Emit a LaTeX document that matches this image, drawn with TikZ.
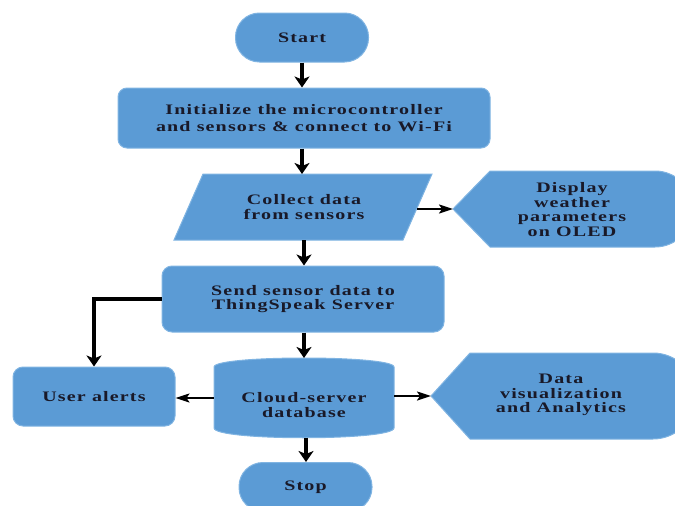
\documentclass[tikz,border=0pt]{standalone}
\usepackage{fontspec}
\setmainfont{Liberation Serif}[FakeStretch=1.38, LetterSpace=8]
\usetikzlibrary{arrows.meta}
\definecolor{boxblue}{RGB}{91,155,213}
\definecolor{edgeblue}{RGB}{128,180,226}
\definecolor{txt}{RGB}{25,25,40}
\begin{document}
\begin{tikzpicture}[x=1pt,y=-1pt,
  shapefill/.style={fill=boxblue, draw=edgeblue, line width=1pt},
  lbl/.style={text=txt, font=\bfseries\fontsize{14.5}{14.8}\selectfont, align=center, inner sep=0pt},
  arr/.style={line width=3.2pt, -{Stealth[length=11pt,width=15pt,inset=3pt]}},
  harr/.style={line width=2pt, -{Stealth[length=14pt,width=9pt,inset=3pt]}},
]
\useasboundingbox (0,0) rectangle (675,506);
\clip (0,0) rectangle (675,506);

% Start
\node[shapefill, lbl, rounded corners=24pt, minimum width=133pt, minimum height=49pt] (start) at (302,37.5) {Start};
% Initialize
\node[shapefill, lbl, rounded corners=9pt, minimum width=372pt, minimum height=60pt,
      font=\bfseries\fontsize{14.5}{16.5}\selectfont] (init) at (304,118) {Initialize the microcontroller\\and sensors \& connect to Wi-Fi};
% Collect data (parallelogram)
\fill[boxblue, draw=edgeblue, line width=1pt] (203,174) -- (432,174) -- (403,240) -- (174,240) -- cycle;
\node[lbl] (coll) at (304,207) {Collect data\\from sensors};
\coordinate (coll-n) at (303,174);
\coordinate (coll-s) at (304,240);
\coordinate (coll-e) at (416.5,209);
% Display
\fill[boxblue, draw=edgeblue, line width=1pt] (453,209) -- (490,171) -- (655,171)
  .. controls (676,171) and (693,188) .. (693,209)
  .. controls (693,230) and (676,247) .. (655,247) -- (490,247) -- cycle;
\node[lbl] (disp) at (572,209.5) {Display\\weather\\parameters\\on OLED};
\coordinate (disp-w) at (453,209);
% Send
\node[shapefill, lbl, rounded corners=10pt, minimum width=282pt, minimum height=66pt] (send) at (303,299) {Send sensor data to\\ThingSpeak Server};
% Cloud-server database (cylinder)
\fill[boxblue, draw=edgeblue, line width=1pt] (214,367) .. controls (214,355) and (394,355) .. (394,367)
  -- (394,428) .. controls (394,441) and (214,441) .. (214,428) -- cycle;
\node[lbl] (cloud) at (304,405) {Cloud-server\\database};
\coordinate (cloud-n) at (304,358);
\coordinate (cloud-s) at (306,437.5);
\coordinate (cloud-w) at (214,398);
\coordinate (cloud-e) at (394,396);
% User alerts
\node[shapefill, lbl, rounded corners=10pt, minimum width=162pt, minimum height=59pt] (alerts) at (94,396.5) {User alerts};
% Data visualization
\fill[boxblue, draw=edgeblue, line width=1pt] (431,396) -- (470,353) -- (653,353)
  .. controls (676.7,353) and (696,372.3) .. (696,396)
  .. controls (696,419.7) and (676.7,439) .. (653,439) -- (470,439) -- cycle;
\node[lbl] (dv) at (561,395) {Data\\visualization\\and Analytics};
\coordinate (dv-w) at (431,396);
% Stop
\node[shapefill, lbl, rounded corners=24pt, minimum width=133pt, minimum height=49pt] (stop) at (305.5,487) {Stop};

% Connectors
\draw[arr] (start.south) -- (start.south |- init.north);
\draw[arr] (init.south -| start.south) -- (coll-n -| start.south);
\draw[arr] (coll-s) -- (coll-s |- send.north);
\draw[harr] (coll-e) -- (disp-w);
\draw[arr] (send.south -| cloud-n) -- (cloud-n);
\draw[arr] (send.west) -| (alerts.north);
\draw[harr] (cloud-w) -- (alerts.east |- cloud-w);
\draw[harr] (cloud-e) -- (dv-w);
\draw[arr] (cloud-s) -- (cloud-s |- stop.north);
\end{tikzpicture}
\end{document}
